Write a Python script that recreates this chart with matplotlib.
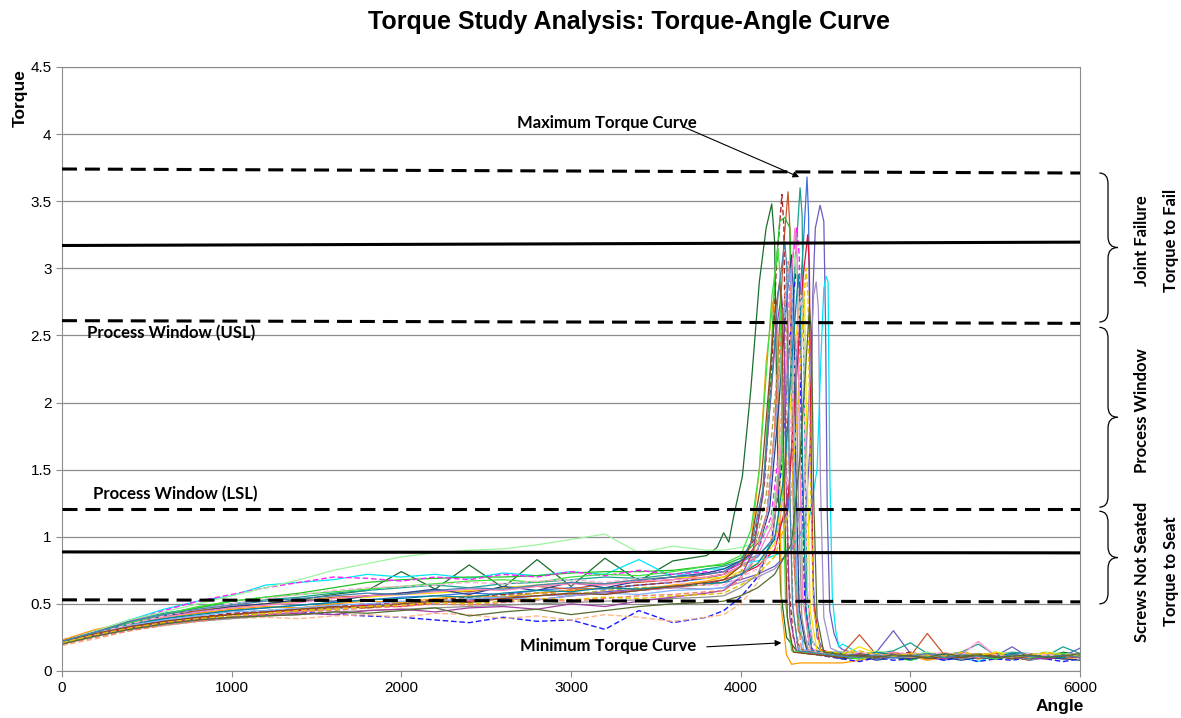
import numpy as np
import matplotlib
matplotlib.use('Agg')
from matplotlib import pyplot as plt
from matplotlib.path import Path
from matplotlib.patches import PathPatch
from matplotlib.transforms import blended_transform_factory

plt.rcParams['font.family'] = ['Liberation Sans', 'DejaVu Sans']

# Run-down portion, sampled every 200 deg for all screws
RAMP_ANGLE = [0, 200, 400, 600, 800, 1000, 1200, 1400, 1600, 1800,
              2000, 2200, 2400, 2600, 2800, 3000, 3200, 3400, 3600, 3800]

RAMP_TORQUE = [
    [0.21, 0.27, 0.37, 0.40, 0.45, 0.47, 0.50, 0.53, 0.57, 0.60, 0.74, 0.61, 0.79, 0.62, 0.83, 0.63, 0.84, 0.67, 0.82, 0.86],
    [0.22, 0.28, 0.34, 0.39, 0.43, 0.45, 0.47, 0.49, 0.51, 0.53, 0.55, 0.56, 0.58, 0.57, 0.60, 0.62, 0.61, 0.64, 0.66, 0.69],
    [0.21, 0.27, 0.33, 0.37, 0.40, 0.42, 0.44, 0.46, 0.47, 0.49, 0.50, 0.52, 0.53, 0.55, 0.56, 0.57, 0.59, 0.61, 0.63, 0.65],
    [0.21, 0.28, 0.38, 0.46, 0.52, 0.56, 0.64, 0.66, 0.68, 0.72, 0.70, 0.72, 0.69, 0.73, 0.71, 0.74, 0.72, 0.83, 0.70, 0.76],
    [0.22, 0.29, 0.37, 0.42, 0.45, 0.48, 0.50, 0.52, 0.55, 0.56, 0.58, 0.60, 0.59, 0.62, 0.63, 0.61, 0.65, 0.66, 0.68, 0.72],
    [0.21, 0.27, 0.33, 0.37, 0.40, 0.43, 0.45, 0.46, 0.48, 0.50, 0.51, 0.53, 0.55, 0.57, 0.58, 0.60, 0.62, 0.64, 0.66, 0.70],
    [0.22, 0.30, 0.38, 0.43, 0.47, 0.50, 0.53, 0.55, 0.58, 0.60, 0.62, 0.64, 0.62, 0.65, 0.66, 0.68, 0.70, 0.69, 0.72, 0.76],
    [0.20, 0.27, 0.36, 0.42, 0.47, 0.52, 0.55, 0.58, 0.62, 0.66, 0.68, 0.69, 0.70, 0.70, 0.71, 0.73, 0.74, 0.74, 0.75, 0.78],
    [0.23, 0.30, 0.37, 0.45, 0.52, 0.57, 0.62, 0.66, 0.70, 0.69, 0.67, 0.70, 0.68, 0.72, 0.70, 0.74, 0.71, 0.75, 0.72, 0.74],
    [0.23, 0.31, 0.36, 0.40, 0.43, 0.46, 0.48, 0.47, 0.50, 0.52, 0.51, 0.54, 0.56, 0.55, 0.58, 0.60, 0.62, 0.61, 0.64, 0.67],
    [0.22, 0.28, 0.33, 0.37, 0.39, 0.41, 0.43, 0.44, 0.42, 0.41, 0.40, 0.38, 0.36, 0.40, 0.37, 0.38, 0.31, 0.45, 0.36, 0.40],
    [0.19, 0.24, 0.30, 0.34, 0.37, 0.39, 0.40, 0.39, 0.41, 0.42, 0.40, 0.43, 0.42, 0.39, 0.41, 0.38, 0.42, 0.40, 0.37, 0.40],
    [0.22, 0.30, 0.38, 0.44, 0.50, 0.56, 0.62, 0.68, 0.75, 0.80, 0.85, 0.88, 0.90, 0.91, 0.94, 0.98, 1.02, 0.88, 0.93, 0.90],
    [0.20, 0.28, 0.34, 0.40, 0.44, 0.47, 0.50, 0.52, 0.54, 0.55, 0.57, 0.58, 0.60, 0.62, 0.64, 0.66, 0.65, 0.68, 0.70, 0.69],
    [0.21, 0.29, 0.36, 0.41, 0.44, 0.48, 0.50, 0.53, 0.52, 0.56, 0.58, 0.61, 0.57, 0.63, 0.60, 0.66, 0.62, 0.67, 0.70, 0.73],
    [0.22, 0.29, 0.35, 0.40, 0.44, 0.47, 0.49, 0.51, 0.54, 0.56, 0.57, 0.59, 0.61, 0.60, 0.63, 0.65, 0.64, 0.67, 0.68, 0.70],
    [0.21, 0.27, 0.32, 0.36, 0.39, 0.42, 0.44, 0.45, 0.47, 0.49, 0.48, 0.51, 0.52, 0.54, 0.53, 0.56, 0.58, 0.60, 0.62, 0.65],
    [0.20, 0.26, 0.31, 0.35, 0.38, 0.40, 0.42, 0.44, 0.46, 0.48, 0.50, 0.52, 0.54, 0.53, 0.56, 0.58, 0.57, 0.60, 0.62, 0.61],
    [0.21, 0.27, 0.32, 0.36, 0.39, 0.41, 0.43, 0.45, 0.47, 0.48, 0.50, 0.52, 0.54, 0.56, 0.58, 0.57, 0.60, 0.62, 0.63, 0.64],
    [0.22, 0.28, 0.34, 0.38, 0.41, 0.44, 0.45, 0.47, 0.49, 0.50, 0.52, 0.51, 0.54, 0.55, 0.53, 0.56, 0.58, 0.57, 0.60, 0.61],
    [0.21, 0.26, 0.31, 0.34, 0.37, 0.39, 0.41, 0.42, 0.44, 0.45, 0.46, 0.47, 0.48, 0.49, 0.50, 0.51, 0.52, 0.53, 0.54, 0.55],
    [0.22, 0.27, 0.33, 0.36, 0.38, 0.40, 0.42, 0.43, 0.42, 0.45, 0.46, 0.44, 0.47, 0.48, 0.46, 0.50, 0.48, 0.52, 0.55, 0.58],
    [0.21, 0.28, 0.36, 0.42, 0.48, 0.52, 0.55, 0.57, 0.59, 0.61, 0.63, 0.65, 0.67, 0.68, 0.66, 0.70, 0.72, 0.71, 0.74, 0.78],
    [0.22, 0.29, 0.35, 0.39, 0.42, 0.45, 0.47, 0.49, 0.51, 0.53, 0.54, 0.56, 0.55, 0.58, 0.60, 0.59, 0.62, 0.61, 0.63, 0.65],
    [0.20, 0.25, 0.30, 0.34, 0.37, 0.40, 0.42, 0.44, 0.45, 0.47, 0.48, 0.50, 0.49, 0.51, 0.53, 0.52, 0.54, 0.56, 0.57, 0.59],
    [0.21, 0.28, 0.35, 0.41, 0.46, 0.50, 0.54, 0.57, 0.60, 0.62, 0.63, 0.64, 0.66, 0.65, 0.67, 0.68, 0.66, 0.69, 0.66, 0.64],
    [0.22, 0.28, 0.33, 0.37, 0.40, 0.42, 0.44, 0.46, 0.48, 0.47, 0.50, 0.52, 0.51, 0.54, 0.56, 0.58, 0.57, 0.60, 0.63, 0.66],
    [0.21, 0.27, 0.32, 0.36, 0.39, 0.41, 0.43, 0.45, 0.46, 0.48, 0.49, 0.51, 0.50, 0.52, 0.54, 0.53, 0.55, 0.54, 0.56, 0.57],
    [0.22, 0.29, 0.37, 0.42, 0.46, 0.49, 0.52, 0.54, 0.56, 0.58, 0.57, 0.60, 0.62, 0.61, 0.64, 0.66, 0.65, 0.68, 0.70, 0.72],
    [0.20, 0.26, 0.31, 0.35, 0.38, 0.40, 0.41, 0.42, 0.44, 0.43, 0.45, 0.47, 0.41, 0.44, 0.46, 0.42, 0.45, 0.48, 0.50, 0.51],
]

# Seating / failure portion, own angle points for each screw
PEAK_ANGLE = [
    [3860, 3900, 3930, 3960, 4010, 4060, 4110, 4150, 4183, 4200, 4215, 4235, 4270, 4330, 4420],
    [3900, 4000, 4100, 4200, 4280, 4310, 4340, 4370, 4391, 4400, 4410, 4425, 4450, 4500],
    [3900, 4000, 4100, 4200, 4300, 4380, 4410, 4425, 4440, 4468, 4490, 4500, 4510, 4525, 4550, 4580],
    [3900, 4000, 4100, 4200, 4300, 4400, 4450, 4475, 4490, 4503, 4515, 4525, 4540, 4560, 4580],
    [3900, 4000, 4100, 4160, 4200, 4230, 4255, 4279, 4290, 4300, 4315, 4340, 4400],
    [3900, 4000, 4080, 4140, 4180, 4210, 4243, 4255, 4265, 4280, 4310, 4380],
    [3900, 4000, 4100, 4200, 4250, 4290, 4320, 4350, 4362, 4375, 4390, 4420, 4480],
    [3900, 4000, 4080, 4130, 4170, 4200, 4230, 4260, 4290, 4305, 4320, 4345, 4400],
    [3900, 4000, 4100, 4180, 4230, 4270, 4300, 4330, 4345, 4360, 4380, 4420],
    [3900, 4000, 4060, 4110, 4150, 4190, 4215, 4230, 4240, 4255, 4270, 4300, 4350],
    [3900, 4000, 4100, 4180, 4240, 4280, 4310, 4330, 4345, 4355, 4370, 4400, 4450],
    [3900, 4000, 4100, 4170, 4220, 4260, 4295, 4310, 4325, 4345, 4380, 4440],
    [3900, 4000, 4100, 4180, 4230, 4270, 4300, 4320, 4335, 4350, 4370, 4410],
    [3900, 4000, 4100, 4200, 4260, 4300, 4335, 4365, 4378, 4392, 4410, 4450],
    [3900, 4000, 4100, 4170, 4220, 4260, 4285, 4300, 4312, 4325, 4345, 4390],
    [3900, 4000, 4100, 4190, 4240, 4280, 4305, 4320, 4333, 4345, 4365, 4410],
    [3900, 4000, 4100, 4200, 4280, 4330, 4365, 4395, 4405, 4415, 4430, 4470],
    [3900, 4000, 4100, 4200, 4300, 4370, 4410, 4430, 4445, 4458, 4470, 4490, 4530],
    [3900, 4000, 4080, 4150, 4200, 4235, 4260, 4275, 4290, 4310, 4350],
    [3900, 4000, 4090, 4160, 4210, 4250, 4290, 4302, 4315, 4335, 4370],
    [3900, 4000, 4100, 4190, 4240, 4280, 4310, 4325, 4340, 4360, 4400],
    [3900, 4000, 4070, 4130, 4175, 4210, 4240, 4255, 4268, 4290, 4330],
    [3900, 4000, 4060, 4110, 4150, 4185, 4220, 4232, 4245, 4265, 4300],
    [3900, 4000, 4100, 4200, 4260, 4300, 4340, 4352, 4365, 4385, 4420],
    [3900, 4000, 4080, 4150, 4200, 4245, 4280, 4292, 4305, 4325, 4360],
    [3900, 4000, 4100, 4200, 4270, 4320, 4355, 4368, 4380, 4400, 4440],
    [3900, 4000, 4060, 4120, 4165, 4200, 4230, 4243, 4256, 4275, 4310],
    [3900, 4000, 4100, 4200, 4290, 4340, 4370, 4385, 4397, 4410, 4430, 4470],
    [3900, 4000, 4070, 4130, 4180, 4220, 4260, 4272, 4285, 4305, 4340],
    [3900, 4000, 4100, 4200, 4300, 4350, 4385, 4405, 4418, 4430, 4450, 4490],
]

PEAK_TORQUE = [
    [0.92, 1.03, 0.96, 1.16, 1.45, 2.10, 2.90, 3.30, 3.48, 3.20, 1.80, 0.60, 0.25, 0.15, 0.13],
    [0.72, 0.78, 0.85, 1.00, 1.20, 1.90, 2.60, 3.20, 3.68, 3.40, 2.00, 0.70, 0.25, 0.13],
    [0.66, 0.68, 0.72, 0.78, 0.90, 1.10, 1.70, 2.80, 3.30, 3.47, 3.35, 2.60, 1.20, 0.45, 0.28, 0.18],
    [0.76, 0.80, 0.82, 0.86, 0.92, 1.10, 1.50, 2.40, 2.85, 2.94, 2.90, 1.50, 0.55, 0.30, 0.18],
    [0.74, 0.80, 0.95, 1.20, 1.80, 2.60, 3.20, 3.57, 3.30, 2.20, 0.80, 0.30, 0.15],
    [0.72, 0.82, 0.98, 1.40, 2.20, 3.00, 3.55, 3.30, 2.00, 0.70, 0.25, 0.13],
    [0.78, 0.82, 0.86, 0.98, 1.30, 2.10, 3.00, 3.60, 3.40, 2.00, 0.60, 0.22, 0.14],
    [0.79, 0.84, 0.95, 1.30, 2.10, 2.90, 3.35, 3.38, 3.30, 2.40, 0.90, 0.30, 0.14],
    [0.74, 0.80, 0.90, 1.15, 1.70, 2.50, 3.00, 3.30, 3.10, 1.60, 0.50, 0.16],
    [0.70, 0.78, 0.95, 1.50, 2.30, 2.75, 2.60, 1.50, 0.45, 0.30, 0.12, 0.05, 0.06],
    [0.45, 0.55, 0.70, 0.95, 1.50, 2.30, 2.80, 3.00, 2.90, 2.00, 0.70, 0.20, 0.12],
    [0.42, 0.50, 0.66, 0.90, 1.50, 2.40, 2.85, 2.70, 1.60, 0.50, 0.20, 0.12],
    [0.90, 0.92, 0.96, 1.10, 1.60, 2.40, 2.90, 3.10, 2.90, 1.70, 0.50, 0.15],
    [0.70, 0.74, 0.80, 0.95, 1.40, 2.10, 2.60, 2.90, 2.70, 1.50, 0.45, 0.15],
    [0.76, 0.82, 0.90, 1.20, 1.90, 2.60, 2.95, 3.10, 2.80, 1.50, 0.45, 0.15],
    [0.72, 0.78, 0.86, 1.10, 1.70, 2.50, 3.05, 3.30, 3.10, 1.80, 0.55, 0.16],
    [0.68, 0.72, 0.78, 0.90, 1.30, 2.20, 2.90, 3.25, 3.00, 1.60, 0.50, 0.16],
    [0.62, 0.66, 0.70, 0.76, 0.90, 1.30, 2.20, 2.80, 2.90, 2.70, 1.40, 0.40, 0.17],
    [0.66, 0.74, 0.90, 1.30, 2.00, 2.50, 2.70, 2.50, 1.30, 0.40, 0.15],
    [0.62, 0.70, 0.85, 1.20, 1.90, 2.60, 3.00, 2.80, 1.60, 0.50, 0.16],
    [0.56, 0.62, 0.72, 1.00, 1.60, 2.30, 2.60, 2.40, 1.30, 0.40, 0.13],
    [0.60, 0.70, 0.88, 1.30, 2.00, 2.55, 2.80, 2.60, 1.40, 0.40, 0.14],
    [0.80, 0.86, 1.05, 1.50, 2.20, 2.80, 3.15, 2.95, 1.60, 0.50, 0.15],
    [0.66, 0.72, 0.80, 0.98, 1.50, 2.30, 2.95, 2.75, 1.50, 0.45, 0.15],
    [0.60, 0.68, 0.82, 1.15, 1.80, 2.60, 3.05, 2.85, 1.60, 0.50, 0.15],
    [0.64, 0.70, 0.76, 0.92, 1.40, 2.30, 2.80, 2.60, 1.40, 0.40, 0.14],
    [0.68, 0.78, 0.95, 1.40, 2.10, 2.65, 2.90, 2.70, 1.40, 0.40, 0.14],
    [0.58, 0.64, 0.72, 0.85, 1.20, 2.00, 2.70, 3.00, 2.80, 1.50, 0.45, 0.15],
    [0.74, 0.82, 0.98, 1.35, 2.10, 2.80, 3.20, 3.00, 1.60, 0.50, 0.15],
    [0.52, 0.56, 0.62, 0.72, 0.95, 1.60, 2.30, 2.70, 2.50, 1.30, 0.40, 0.14],
]

# After joint failure, sampled every 100 deg
TAIL_ANGLE = [4600, 4700, 4800, 4900, 5000, 5100, 5200, 5300,
              5400, 5500, 5600, 5700, 5800, 5900, 6000]

TAIL_TORQUE = [
    [0.12, 0.10, 0.13, 0.11, 0.09, 0.12, 0.10, 0.13, 0.11, 0.12, 0.10, 0.13, 0.11, 0.14, 0.12],
    [0.10, 0.12, 0.09, 0.11, 0.13, 0.10, 0.08, 0.11, 0.12, 0.09, 0.11, 0.10, 0.12, 0.09, 0.11],
    [0.16, 0.12, 0.14, 0.30, 0.13, 0.11, 0.10, 0.12, 0.09, 0.11, 0.18, 0.10, 0.12, 0.11, 0.17],
    [0.20, 0.13, 0.10, 0.12, 0.08, 0.11, 0.13, 0.10, 0.07, 0.12, 0.09, 0.11, 0.13, 0.10, 0.12],
    [0.13, 0.27, 0.12, 0.14, 0.11, 0.28, 0.12, 0.10, 0.13, 0.11, 0.12, 0.10, 0.13, 0.11, 0.12],
    [0.11, 0.13, 0.10, 0.12, 0.14, 0.11, 0.09, 0.12, 0.10, 0.13, 0.11, 0.12, 0.10, 0.11, 0.12],
    [0.14, 0.11, 0.13, 0.15, 0.21, 0.13, 0.12, 0.14, 0.20, 0.12, 0.14, 0.13, 0.11, 0.18, 0.13],
    [0.10, 0.09, 0.12, 0.10, 0.08, 0.11, 0.10, 0.09, 0.12, 0.10, 0.11, 0.09, 0.10, 0.12, 0.11],
    [0.12, 0.10, 0.13, 0.11, 0.12, 0.10, 0.13, 0.11, 0.10, 0.12, 0.11, 0.13, 0.10, 0.12, 0.11],
    [0.06, 0.08, 0.10, 0.09, 0.11, 0.08, 0.10, 0.12, 0.09, 0.11, 0.10, 0.08, 0.11, 0.09, 0.10],
    [0.09, 0.07, 0.10, 0.08, 0.09, 0.11, 0.08, 0.10, 0.07, 0.09, 0.08, 0.10, 0.09, 0.07, 0.09],
    [0.11, 0.13, 0.10, 0.12, 0.11, 0.14, 0.12, 0.10, 0.13, 0.11, 0.12, 0.10, 0.13, 0.12, 0.11],
    [0.14, 0.12, 0.15, 0.13, 0.12, 0.14, 0.11, 0.13, 0.12, 0.14, 0.13, 0.12, 0.14, 0.13, 0.12],
    [0.12, 0.18, 0.13, 0.11, 0.12, 0.10, 0.13, 0.12, 0.11, 0.14, 0.12, 0.11, 0.13, 0.12, 0.10],
    [0.09, 0.11, 0.08, 0.10, 0.09, 0.12, 0.10, 0.08, 0.10, 0.09, 0.11, 0.08, 0.10, 0.09, 0.08],
    [0.13, 0.11, 0.12, 0.14, 0.12, 0.11, 0.13, 0.12, 0.22, 0.11, 0.13, 0.12, 0.10, 0.12, 0.13],
    [0.11, 0.12, 0.10, 0.13, 0.11, 0.12, 0.10, 0.11, 0.13, 0.10, 0.12, 0.11, 0.09, 0.11, 0.10],
    [0.13, 0.10, 0.12, 0.11, 0.13, 0.12, 0.10, 0.14, 0.12, 0.11, 0.13, 0.10, 0.12, 0.11, 0.13],
    [0.12, 0.14, 0.11, 0.13, 0.12, 0.10, 0.12, 0.11, 0.13, 0.12, 0.10, 0.12, 0.11, 0.10, 0.12],
    [0.10, 0.12, 0.11, 0.09, 0.12, 0.10, 0.11, 0.13, 0.10, 0.12, 0.09, 0.11, 0.10, 0.12, 0.11],
    [0.12, 0.10, 0.11, 0.12, 0.10, 0.11, 0.12, 0.09, 0.11, 0.10, 0.12, 0.08, 0.10, 0.11, 0.12],
    [0.10, 0.13, 0.11, 0.10, 0.12, 0.11, 0.09, 0.12, 0.10, 0.11, 0.12, 0.10, 0.09, 0.11, 0.10],
    [0.11, 0.09, 0.12, 0.10, 0.13, 0.11, 0.10, 0.12, 0.11, 0.09, 0.12, 0.10, 0.11, 0.13, 0.11],
    [0.13, 0.11, 0.14, 0.12, 0.11, 0.13, 0.12, 0.10, 0.12, 0.11, 0.13, 0.12, 0.11, 0.10, 0.12],
    [0.12, 0.10, 0.11, 0.13, 0.10, 0.12, 0.11, 0.13, 0.10, 0.12, 0.11, 0.10, 0.12, 0.11, 0.10],
    [0.12, 0.14, 0.12, 0.11, 0.13, 0.12, 0.14, 0.11, 0.22, 0.12, 0.11, 0.13, 0.12, 0.11, 0.13],
    [0.10, 0.12, 0.11, 0.10, 0.12, 0.09, 0.11, 0.10, 0.12, 0.11, 0.09, 0.11, 0.10, 0.12, 0.10],
    [0.13, 0.15, 0.12, 0.11, 0.13, 0.12, 0.11, 0.14, 0.12, 0.13, 0.11, 0.12, 0.14, 0.12, 0.11],
    [0.11, 0.10, 0.12, 0.10, 0.11, 0.13, 0.10, 0.12, 0.11, 0.10, 0.12, 0.11, 0.10, 0.12, 0.10],
    [0.12, 0.11, 0.10, 0.12, 0.11, 0.10, 0.13, 0.11, 0.12, 0.10, 0.11, 0.12, 0.10, 0.11, 0.13],
]

COLORS = ['#1b6e2e', '#3d6fe6', '#6a5cc4', '#00e5f5', '#c8552b', '#a52a2a',
          '#18a090', '#22c022', '#ff20ff', '#ff9a00', '#1a1aff', '#ffb585',
          '#9df59d', '#f5e000', '#22408f', '#ff80c0', '#dc143c', '#9f8fc8',
          '#b5a642', '#7fb0ff', '#909090', '#a03ca0', '#3fe03f', '#00879a',
          '#f08070', '#ffb0d8', '#8b4a1a', '#e8c000', '#4682b4', '#556b2f']
STYLES = ['-', '-', '-', '-', '-', '--', '-', '-', '--', '-', '--', '--',
          '-', '-', '-', '-', '-', '-', '--', '-', '-', '-', '-', '-',
          '--', '--', '-', '--', '-', '-']

# Spec lines: (torque at 0 deg, torque at 6000 deg, dashed?)
LIMITS = [(3.74, 3.71, True), (3.17, 3.195, False), (2.61, 2.59, True),
          (1.21, 1.21, True), (0.887, 0.88, False), (0.53, 0.515, True)]

# Zones on the right: (bottom, top, label centre, labels)
ZONES = [(2.60, 3.71, 3.21, ['Joint Failure', 'Torque to Fail']),
         (1.22, 2.56, 1.94, ['Process Window']),
         (0.50, 1.19, 0.74, ['Screws Not Seated', 'Torque to Seat'])]


def brace(ax, y0, y1):
    """ curly brace in (axes x, data y), tip pointing right """
    tr = blended_transform_factory(ax.transAxes, ax.transData)
    xl, xs, xt = 1.019, 1.0275, 1.037
    d = 0.08
    ym = (y0 + y1) / 2
    verts = [(xl, y0), (xs, y0), (xs, y0 + d), (xs, ym - d),
             (xs, ym), (xt, ym), (xs, ym), (xs, ym + d),
             (xs, y1 - d), (xs, y1), (xl, y1)]
    codes = [Path.MOVETO, Path.CURVE3, Path.CURVE3, Path.LINETO,
             Path.CURVE3, Path.CURVE3, Path.CURVE3, Path.CURVE3,
             Path.LINETO, Path.CURVE3, Path.CURVE3]
    ax.add_patch(PathPatch(Path(verts, codes), transform=tr, fill=False,
                           lw=0.9, color='black', clip_on=False))
    return tr


fig = plt.figure(figsize=(11.81, 7.18), dpi=100)
ax = fig.add_axes([0.0525, 0.0655, 0.862, 0.8412])

# Torque-angle curves
for i in range(len(COLORS)):
    ang = RAMP_ANGLE + PEAK_ANGLE[i] + TAIL_ANGLE
    trq = RAMP_TORQUE[i] + PEAK_TORQUE[i] + TAIL_TORQUE[i]
    if STYLES[i] == '--':
        ax.plot(ang, trq, color=COLORS[i], lw=1.0, dashes=(4, 2), zorder=2)
    else:
        ax.plot(ang, trq, color=COLORS[i], lw=0.9, zorder=2)

# Spec limit lines
for yl, yr, dashed in LIMITS:
    if dashed:
        ax.plot([0, 6000], [yl, yr], color='black', lw=2.2, dashes=(4.9, 2.6), zorder=4)
    else:
        ax.plot([0, 6000], [yl, yr], color='black', lw=2.2, zorder=4)

ax.set_xlim(0, 6000)
ax.set_ylim(0, 4.5)
ax.set_xticks(np.arange(0, 6001, 1000))
ax.set_yticks(np.arange(0, 4.51, 0.5))
ax.yaxis.set_major_formatter(plt.FormatStrFormatter('%g'))
ax.grid(axis='y', color='#8c8c8c', lw=0.9, zorder=0)
ax.set_axisbelow(True)
for sp in ax.spines.values():
    sp.set_color('#8c8c8c')
ax.tick_params(colors='#8c8c8c', labelcolor='black', labelsize=11, length=4)

# Annotations
lab = dict(family=['Lato', 'DejaVu Sans'], fontweight='bold', fontsize=12)
ax.text(150, 2.52, 'Process Window (USL)', ha='left', va='center', **lab)
ax.text(180, 1.32, 'Process Window (LSL)', ha='left', va='center', **lab)
ax.text(3740, 4.08, 'Maximum Torque Curve', ha='right', va='center', **lab)
ax.text(3740, 0.185, 'Minimum Torque Curve', ha='right', va='center', **lab)
ax.annotate('', xy=(4345, 3.68), xytext=(3670, 4.05),
            arrowprops=dict(arrowstyle='-|>', color='black', lw=0.8,
                            mutation_scale=9, shrinkA=0, shrinkB=0))
ax.annotate('', xy=(4240, 0.21), xytext=(3800, 0.18),
            arrowprops=dict(arrowstyle='-|>', color='black', lw=0.8,
                            mutation_scale=9, shrinkA=0, shrinkB=0))

# Zone braces and labels
for y0, y1, yc, labels in ZONES:
    tr = brace(ax, y0, y1)
    for x, s in zip([1.061, 1.089], labels):
        ax.text(x, yc, s, rotation=90, ha='center', va='center',
                transform=tr, **lab)

fig.text(0.533, 0.969, 'Torque Study Analysis: Torque-Angle Curve',
         ha='center', va='center', fontsize=18, fontweight='bold')
fig.text(0.017, 0.8635, 'Torque', rotation=90, ha='center', va='center',
         fontsize=12.5, fontweight='bold')
fig.text(0.8975, 0.0167, 'Angle', ha='center', va='center',
         fontsize=12.5, fontweight='bold')

fig.savefig('out.png', dpi=100)
